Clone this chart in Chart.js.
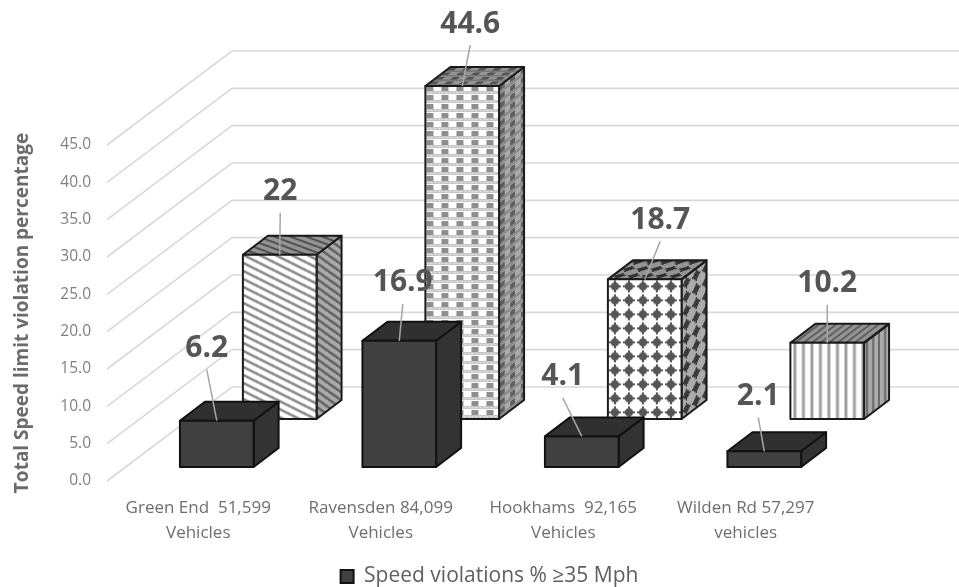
<!DOCTYPE html>
<html lang="en">

<head>
  <meta charset="UTF-8">
  <title>Speed violations</title>
  <script src="https://cdn.jsdelivr.net/npm/chart.js"></script>
  <style>
    body {
      margin: 0;
      background: #fff;
    }

    canvas {
      display: block;
    }
  </style>
</head>

<body>
  <canvas id="c" width="959" height="587"></canvas>

  <script>
    const categories = [
      ['Green End  51,599', 'Vehicles'],
      ['Ravensden 84,099', 'Vehicles'],
      ['Hookhams  92,165', 'Vehicles'],
      ['Wilden Rd 57,297', 'vehicles']
    ];
    const speedViolations = [6.2, 16.9, 4.1, 2.1];
    const totalViolations = [22, 44.6, 18.7, 10.2];
    const legendLabel = 'Speed violations % \u226535 Mph';
    const axisTitle = 'Total Speed limit violation percentage';

    // hand placed data labels in the original, offset from the bar's top edge
    const speedLabelShift = [[-10, -74], [3.5, -60], [-19, -61.5], [-6, -57]];
    const totalLabelShift = [[0.5, -65], [8, -64], [15.5, -61], [0, -61]];

    const FONT = '"Open Sans", sans-serif';
    const DEPTH_X = 25, DEPTH_Y = -19;
    const FLOOR_X = 125, FLOOR_Y = -94;
    const SERIES_LIFT = [14, 62]; // how far back on the floor each row of bars stands
    const LEADER_GAP = 23;

    function tile(w, h, draw) {
      const t = document.createElement('canvas');
      t.width = w;
      t.height = h;
      const x = t.getContext('2d');
      x.fillStyle = '#fff';
      x.fillRect(0, 0, w, h);
      draw(x);
      return x.createPattern(t, 'repeat');
    }

    function diag() {
      return tile(16, 8, x => {
        x.strokeStyle = '#8c8c8c';
        x.lineWidth = 2.6;
        for (let i = -8; i <= 8; i += 8) {
          x.beginPath();
          x.moveTo(0, i);
          x.lineTo(16, i + 8);
          x.stroke();
        }
      });
    }

    function plaid() {
      return tile(15, 9, x => {
        x.fillStyle = '#8e8e8e';
        x.fillRect(1, 0, 7, 5);
        x.fillStyle = '#c6c6c6';
        x.fillRect(0, 5, 15, 3);
        x.fillStyle = '#e6e6e6';
        for (let i = 1; i < 15; i += 4) {
          x.fillRect(i, 6, 2, 1);
        }
      });
    }

    function dots() {
      return tile(14, 14, x => {
        x.fillStyle = '#555';
        x.beginPath();
        x.arc(7, 7, 4.1, 0, Math.PI * 2);
        x.fill();
        x.fillRect(1, 6, 12, 2);
        x.fillRect(6, 1, 2, 12);
      });
    }

    function stripes() {
      return tile(17, 8, x => {
        x.fillStyle = '#a0a0a0';
        x.fillRect(3, 0, 3, 8);
        x.fillRect(11.5, 0, 3, 8);
      });
    }

    const fills = [null, [diag(), plaid(), dots(), stripes()]];

    function poly(ctx, pts) {
      ctx.beginPath();
      pts.forEach((p, i) => i ? ctx.lineTo(p[0], p[1]) : ctx.moveTo(p[0], p[1]));
      ctx.closePath();
    }

    function face(ctx, pts, fill, matrix, shade) {
      ctx.save();
      poly(ctx, pts);
      ctx.clip();
      ctx.transform(matrix[0], matrix[1], matrix[2], matrix[3], matrix[4], matrix[5]);
      ctx.fillStyle = fill;
      ctx.fillRect(-2000, -2000, 4000, 4000);
      ctx.restore();
      if (shade) {
        poly(ctx, pts);
        ctx.fillStyle = 'rgba(0,0,0,' + shade + ')';
        ctx.fill();
      }
      poly(ctx, pts);
      ctx.stroke();
    }

    function drawBox(ctx, l, r, top, base, fill, dark) {
      const dx = DEPTH_X, dy = DEPTH_Y;
      ctx.strokeStyle = dark ? '#111' : '#1a1a1a';
      ctx.lineWidth = 2;
      ctx.lineJoin = 'round';
      const side = [[r, top], [r + dx, top + dy], [r + dx, base + dy], [r, base]];
      const roof = [[l, top], [l + dx, top + dy], [r + dx, top + dy], [r, top]];
      const front = [[l, top], [r, top], [r, base], [l, base]];
      if (dark) {
        face(ctx, side, '#333', [1, 0, 0, 1, 0, 0]);
        face(ctx, roof, '#303030', [1, 0, 0, 1, 0, 0]);
        face(ctx, front, '#404040', [1, 0, 0, 1, 0, 0]);
      } else {
        // side and roof get the pattern squeezed along the receding edge
        // the diagonal hatch stays unsheared on the side, otherwise it goes flat
        const shear = fill === fills[1][0] ? 0 : 0.7 * dy / dx;
        face(ctx, side, fill, [0.7, shear, 0, 1, r, top], 0.33);
        face(ctx, roof, fill, [1, 0, 0.5 * dx / dy, 0.5, l, top], 0.42);
        face(ctx, front, fill, [1, 0, 0, 1, l, top]);
      }
    }

    const box3d = {
      id: 'box3d',
      beforeDatasetsDraw(chart) {
        const ctx = chart.ctx;
        const y = chart.scales.y;

        // walls and floor grid
        ctx.save();
        ctx.strokeStyle = '#d9d9d9';
        ctx.lineWidth = 1.6;
        y.ticks.forEach(t => {
          const p = y.getPixelForValue(t.value);
          ctx.beginPath();
          ctx.moveTo(y.right - 50, p);
          ctx.lineTo(y.right - 50 + FLOOR_X, p + FLOOR_Y);
          ctx.lineTo(chart.width, p + FLOOR_Y);
          ctx.stroke();
        });
        ctx.restore();

        // back row first so the dark row sits in front of it
        [1, 0].forEach(di => {
          chart.getDatasetMeta(di).data.forEach((el, i) => {
            const lift = SERIES_LIFT[di];
            const fill = fills[di] ? fills[di][i] : null;
            drawBox(ctx, el.x - el.width / 2, el.x + el.width / 2, el.y - lift, el.base - lift, fill, di === 0);
          });
        });

        // leaders and values
        ctx.save();
        ctx.textAlign = 'center';
        ctx.textBaseline = 'middle';
        ctx.font = 'bold 30px ' + FONT;
        [1, 0].forEach(di => {
          const shift = di ? totalLabelShift : speedLabelShift;
          chart.getDatasetMeta(di).data.forEach((el, i) => {
            const ty = el.y - SERIES_LIFT[di];
            const lx = el.x + shift[i][0], ly = ty + shift[i][1];
            ctx.strokeStyle = '#a6a6a6';
            ctx.lineWidth = 1.5;
            ctx.beginPath();
            ctx.moveTo(lx, ly + LEADER_GAP);
            ctx.lineTo(el.x, ty);
            ctx.stroke();
            ctx.fillStyle = '#555';
            ctx.fillText(String(chart.data.datasets[di].data[i]), lx, ly + 2);
          });
        });
        ctx.restore();
        return false;
      }
    };

    new Chart(document.getElementById('c'), {
      type: 'bar',
      data: {
        labels: categories,
        datasets: [
          {
            label: legendLabel,
            data: speedViolations,
            backgroundColor: '#404040',
            borderColor: '#111',
            borderWidth: 2
          },
          {
            label: axisTitle,
            data: totalViolations,
            backgroundColor: '#fff',
            borderColor: '#1a1a1a',
            borderWidth: 2
          }
        ]
      },
      options: {
        responsive: false,
        animation: false,
        categoryPercentage: 0.69,
        barPercentage: 1.17,
        layout: {
          autoPadding: false,
          padding: { left: 20, top: 145, right: 0, bottom: -10 }
        },
        plugins: {
          tooltip: { enabled: false },
          legend: {
            position: 'bottom',
            labels: {
              boxWidth: 13,
              boxHeight: 13,
              padding: 3,
              color: '#5f5f5f',
              font: { family: FONT, size: 21 },
              filter: item => item.datasetIndex === 0
            }
          }
        },
        scales: {
          x: {
            grid: { display: false },
            border: { display: false },
            ticks: {
              maxRotation: 0,
              autoSkip: false,
              labelOffset: -50,
              padding: 7,
              color: '#6e6e6e',
              font: { family: FONT, size: 17, lineHeight: 1.45 }
            },
            afterFit: s => { s.height = 82; }
          },
          y: {
            min: 0,
            max: 45,
            grid: { display: false, drawTicks: false },
            border: { display: false },
            ticks: {
              stepSize: 5,
              padding: 66,
              color: '#808080',
              font: { family: FONT, size: 15.5 },
              callback: v => v.toFixed(1)
            },
            title: {
              display: true,
              text: axisTitle,
              color: '#6b6b6b',
              padding: { top: -9, bottom: 0 },
              font: { family: FONT, size: 19, weight: 'bold', lineHeight: 1.2 }
            },
            afterFit: s => { s.width = 137; }
          },
          // empty axis that only reserves the space right of the last bar
          yEnd: {
            position: 'right',
            grid: { display: false },
            border: { display: false },
            ticks: { display: false },
            afterFit: s => { s.width = 72; }
          }
        }
      },
      plugins: [box3d]
    });
  </script>
</body>

</html>
